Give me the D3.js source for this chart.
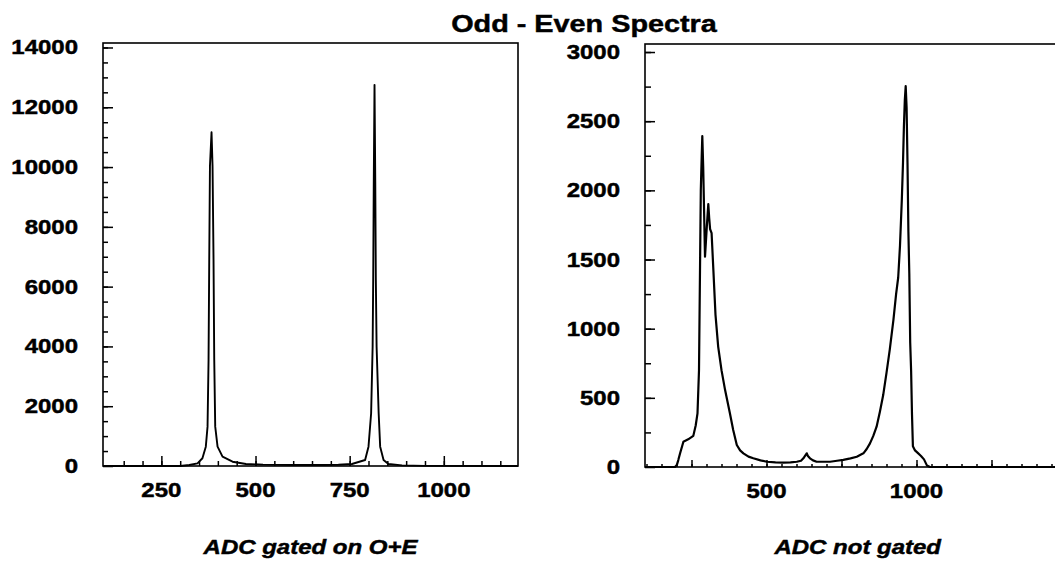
<!DOCTYPE html>
<html>
<head>
<meta charset="utf-8">
<script src="https://cdn.jsdelivr.net/npm/d3@7"></script>
<style>
  body { margin: 0; background: #fff; }
  svg { display: block; }
  .tick line { stroke: #000; stroke-width: 1.5; }
  .domain { display: none; }
  text { font-family: "Liberation Sans", Arial, Helvetica, sans-serif; font-weight: bold; fill: #000;
         stroke: #000; stroke-width: 0.45px; }
</style>
</head>
<body>
<div id="chart"></div>
<script>
// ADC gated on O+E : channel / counts
var gatedChan = [95, 300, 324, 346, 359, 368, 372.6, 375.3, 377.1, 379, 383.2, 385.9, 388.5, 390.4, 393, 399.2, 412.4, 439, 474.6,
  520, 600, 680, 720, 756, 791, 800, 807, 811, 812.5, 814, 816, 818, 819.5, 821.5, 827, 831, 840, 853, 889, 950, 1197];
var gatedCounts = [0, 0, 33, 90, 258, 647, 1317, 3551, 6901, 10027, 11166, 10027, 6901, 3551, 1317, 647, 312, 144, 67,
  45, 35, 35, 40, 67, 200, 647, 1765, 3997, 6231, 9500, 12750, 9500, 6231, 3997, 1765, 647, 200, 67, 20, 5, 0];

// ADC not gated
var notGatedChan = [95, 195, 201, 206, 212, 223, 239, 256, 264, 270, 275, 278, 281, 284, 286, 289, 295, 301, 306, 309, 312, 317,
  323, 330, 339, 350, 362, 378, 389, 401, 412, 423, 440, 456, 480, 501, 530, 556, 580, 601, 615, 623, 630, 634, 638, 645, 655,
  667, 690, 712, 735, 756, 780, 801, 815, 823, 834, 845, 856, 867, 878, 889, 900, 911, 923, 932, 939, 945, 951, 955, 958, 961,
  964, 967, 970, 973, 976, 979, 982, 985, 988, 995, 1005, 1015, 1025, 1035, 1045, 1500];
var notGatedCounts = [0, 0, 14, 50, 99, 183, 200, 225, 300, 388, 700, 1350, 2000, 2242, 2392, 2170, 1520, 1736, 1900, 1800, 1720, 1690,
  1420, 1100, 869, 700, 556, 388, 267, 159, 120, 99, 75, 63, 48, 38, 33, 31, 33, 38, 45, 63, 85, 99, 80, 63, 48,
  38, 38, 38, 45, 51, 62, 74, 90, 99, 130, 171, 225, 291, 400, 520, 680, 850, 1062, 1250, 1370, 1600, 1929, 2200, 2459, 2650,
  2753, 2600, 2200, 1700, 1400, 900, 700, 380, 150, 120, 100, 80, 55, 10, 0, 0];

var leftYTicks = [0, 2000, 4000, 6000, 8000, 10000, 12000, 14000];
var leftXTicks = [250, 500, 750, 1000];
var rightYTicks = [0, 500, 1000, 1500, 2000, 2500, 3000];
var rightXTicks = [500, 1000];

var chartTitle = "Odd - Even Spectra";
var leftLabel = "ADC gated on O+E";
var rightLabel = "ADC not gated";

var width = 1055;
var height = 561;
var stretch = 1.2;

var svg = d3.select("#chart").append("svg")
  .attr("width", width)
  .attr("height", height);

svg.append("rect").attr("width", width).attr("height", height).attr("fill", "#fff");

function addText(x, y, txt, anchor, size, italic) {
  svg.append("text")
    .attr("transform", "translate(" + x + "," + y + ") scale(" + stretch + ",1)")
    .attr("text-anchor", anchor)
    .style("font-size", size + "px")
    .style("font-style", italic ? "italic" : "normal")
    .text(txt);
}

function drawPanel(p) {
  var x = d3.scaleLinear(p.xDomain, [p.left, p.right]);
  var y = d3.scaleLinear(p.yDomain, [p.bottom, p.top]);

  var g = svg.append("g");

  // y ticks, pointing into the frame
  g.append("g")
    .attr("transform", "translate(" + p.left + ",0)")
    .call(d3.axisLeft(y).tickValues(p.yMinor).tickSize(-p.yMinorLen).tickFormat(""));
  g.append("g")
    .attr("transform", "translate(" + p.left + ",0)")
    .call(d3.axisLeft(y).tickValues(p.yTicks).tickSize(-10).tickFormat(""));

  // x ticks
  g.append("g")
    .attr("transform", "translate(0," + p.bottom + ")")
    .call(d3.axisBottom(x).tickValues(p.xMinor).tickSize(-p.xMinorLen).tickFormat(""));
  g.append("g")
    .attr("transform", "translate(0," + p.bottom + ")")
    .call(d3.axisBottom(x).tickValues(p.xMajor).tickSize(-p.xMajorLen).tickFormat(""));

  // frame
  g.append("rect")
    .attr("x", p.left).attr("y", p.top)
    .attr("width", p.right - p.left).attr("height", p.bottom - p.top)
    .attr("fill", "none").attr("stroke", "#000").attr("stroke-width", 1.6);

  // spectrum
  var line = d3.line()
    .x(function (d, i) { return x(p.chan[i]); })
    .y(function (d) { return y(d); });
  g.append("path")
    .datum(p.counts)
    .attr("d", line)
    .attr("fill", "none")
    .attr("stroke", "#000")
    .attr("stroke-width", p.lineWidth)
    .attr("stroke-linejoin", "round");

  p.yTicks.forEach(function (v) {
    addText(p.left - 25, y(v) + 7, v, "end", 20, false);
  });
  p.xTicks.forEach(function (v) {
    addText(x(v), p.bottom + 31, v, "middle", 20, false);
  });
  addText((p.left + p.right) / 2 + p.labelShift, 554, p.label, "middle", 20, true);
}

drawPanel({
  left: 103, right: 518, top: 43, bottom: 466,
  xDomain: [95, 1197], yDomain: [0, 14150],
  chan: gatedChan, counts: gatedCounts, lineWidth: 1.9,
  yTicks: leftYTicks, yMinor: d3.range(500, 14001, 500), yMinorLen: 5,
  xTicks: leftXTicks, xMajor: [250, 500, 750, 1000], xMajorLen: 10,
  xMinor: d3.range(150, 1197, 50), xMinorLen: 5,
  label: leftLabel, labelShift: 0
});

drawPanel({
  left: 645, right: 1066.5, top: 44, bottom: 467,
  xDomain: [95, 1500], yDomain: [0, 3058],
  chan: notGatedChan, counts: notGatedCounts, lineWidth: 2.2,
  yTicks: rightYTicks, yMinor: d3.range(250, 3001, 250), yMinorLen: 6,
  xTicks: rightXTicks, xMajor: [250, 500, 750, 1000, 1250], xMajorLen: 7,
  xMinor: d3.range(100, 1500, 50), xMinorLen: 3,
  label: rightLabel, labelShift: 2
});

addText(584, 32, chartTitle, "middle", 24, false);
</script>
</body>
</html>
